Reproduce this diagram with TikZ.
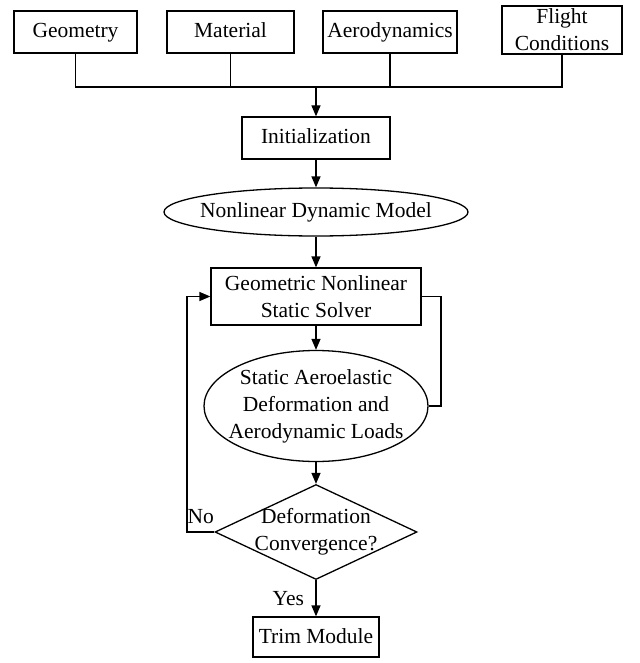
\documentclass[tikz,border=0pt]{standalone}
\usepackage{fontspec}
\setmainfont{Liberation Serif}
\usetikzlibrary{shapes.geometric, arrows.meta}

\begin{document}
\begin{tikzpicture}[x=1pt, y=1pt, line width=1.3pt,
	font=\fontsize{21.5}{27}\selectfont,
	every label/.style={align=center, inner sep=0pt},
	block/.style={draw, rectangle, align=center, inner sep=0pt},
	oneline/.style={text height=14pt, text depth=2pt},
	ell/.style={draw, ellipse, inner sep=0pt},
	decision/.style={draw, diamond, inner sep=0pt},
	flow/.style={-{Triangle[length=11pt, width=9pt]}}]
	\useasboundingbox (0,0) rectangle (639,-663);
	\node[block, oneline, minimum width=123pt, minimum height=42pt] (geo) at (75.5,-32) {Geometry};
	\node[block, oneline, minimum width=127pt, minimum height=42pt] (mat) at (230.5,-32) {Material};
	\node[block, oneline, minimum width=134pt, minimum height=42pt] (aero) at (390,-32) {Aerodynamics};
	\node[block, minimum width=120pt, minimum height=48pt] (flight) at (562,-30) {Flight\\Conditions};
	\coordinate (bus) at (316,-87);
	\node[block, oneline, minimum width=148pt, minimum height=42pt] (init) at (316,-138) {Initialization};
	\node[ell, minimum width=304pt, minimum height=48pt, label={center:Nonlinear Dynamic Model}] (ndm) at (316,-212) {};
	\node[block, minimum width=210pt, minimum height=57pt] (solver) at (316,-296.5) {Geometric Nonlinear\\Static Solver};
	\node[ell, minimum width=224pt, minimum height=111pt, label={center:Static Aeroelastic\\Deformation and\\Aerodynamic Loads}] (sae) at (316,-406) {};
	\node[decision, minimum width=202pt, minimum height=95pt, label={center:Deformation\\Convergence?}] (conv) at (316,-532) {};
	\node[block, oneline, minimum width=126pt, minimum height=40pt] (trim) at (316,-637) {Trim Module};
	\coordinate (rloop) at (441,-406);
	\coordinate (lloop) at (187,-532);

	\draw (geo.south) |- (bus);
	\draw (mat.south) -- (mat.south |- bus);
	\draw (aero.south) -- (aero.south |- bus);
	\draw (flight.south) |- (bus);
	\draw[flow] (bus) -- (init);
	\draw[flow] (init) -- (ndm);
	\draw[flow] (ndm) -- (solver);
	\draw[flow] (solver) -- (sae);
	\draw (solver.east) -| (rloop) -- (sae.east);
	\draw[flow] (sae) -- (conv);
	\draw[flow] (conv.west) -- node[above=4pt] (no) {No} (lloop) |- (solver.west);
	\draw[flow] (conv) -- node[left=8pt] (yes) {Yes} (trim);
\end{tikzpicture}
\end{document}
